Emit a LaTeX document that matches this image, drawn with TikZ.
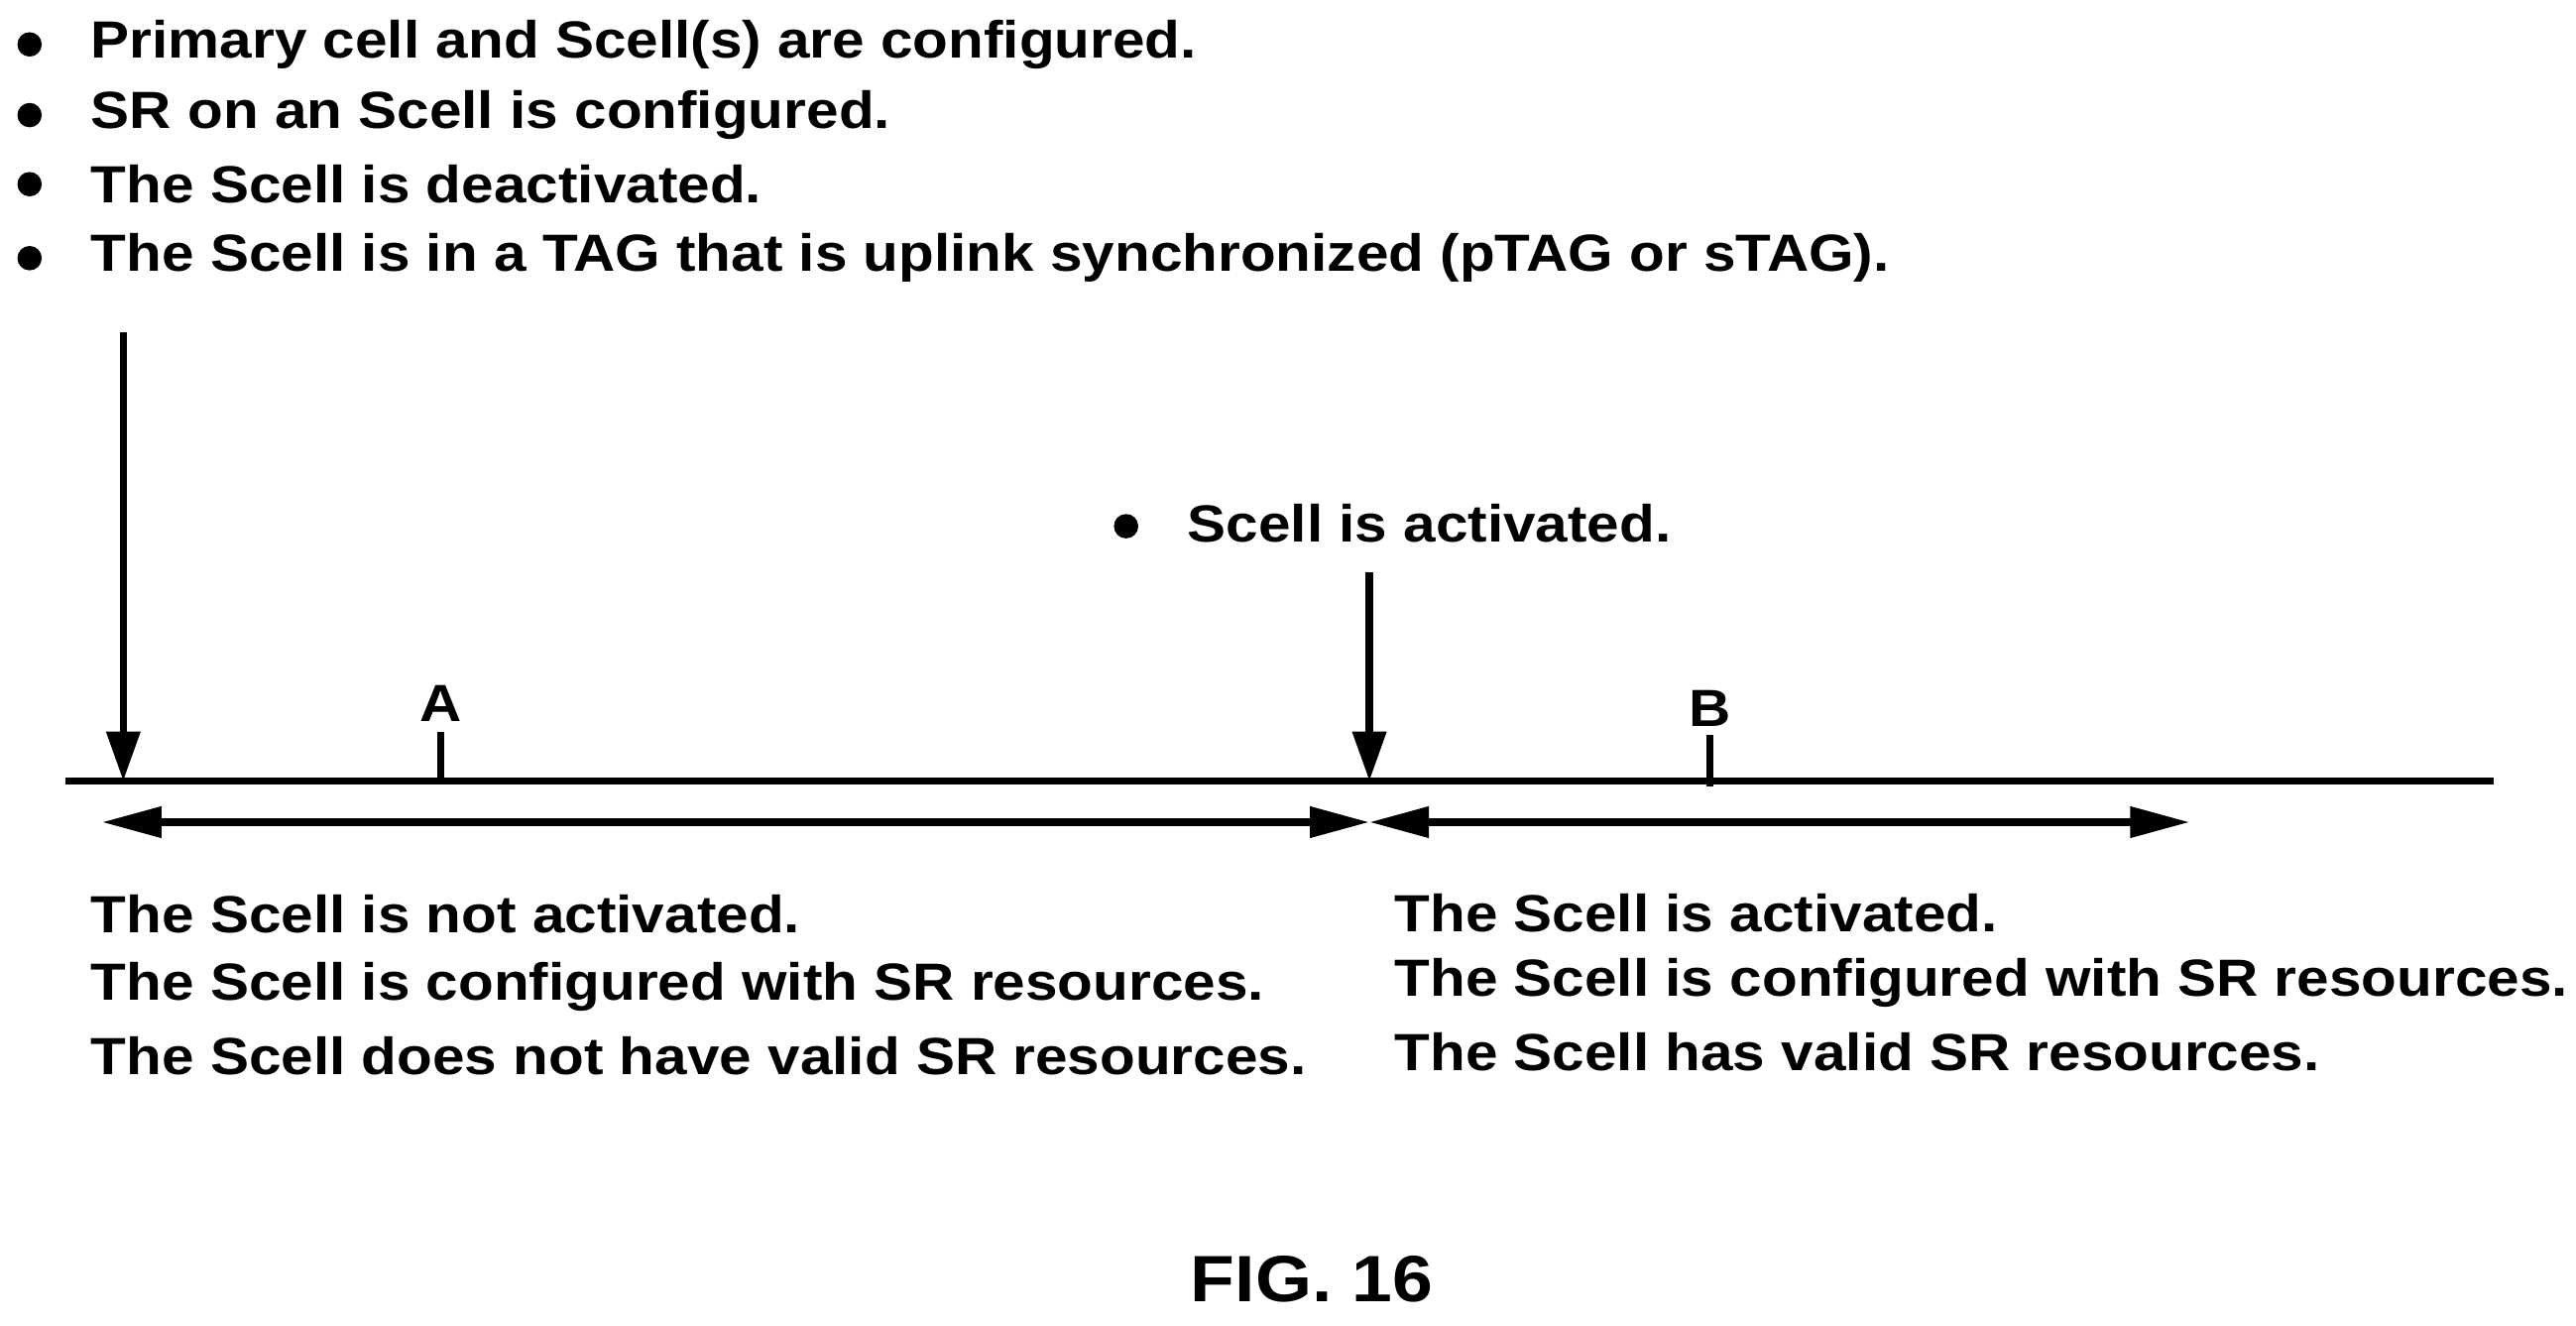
\documentclass[tikz,border=0pt]{standalone}
\usepackage{fontspec}
\setmainfont{Liberation Sans}[FakeStretch=1.11]
\usetikzlibrary{arrows.meta,positioning}

\begin{document}
\begin{tikzpicture}[x=0.01659cm,y=-0.01659cm,font=\bfseries\fontsize{15}{17}\selectfont]
    % `txt' for the plain text lines, `line' for the thick strokes.
    \tikzstyle{txt} = [anchor=west,inner sep=0pt]
    \tikzstyle{dot} = [fill,circle,inner sep=0pt,minimum size=7pt]
    \tikzstyle{line} = [line width=2.1pt]
    \tikzstyle{down} = [line,-{Triangle[length=0.5cm,width=0.33cm]}]
    \tikzstyle{span} = [line,{Triangle[length=0.6cm,width=0.3cm]}-{Triangle[length=0.6cm,width=0.3cm]}]
    \useasboundingbox (0,0) rectangle (1567,806);
    %
    \foreach \y/\t [count=\i] in {27/Primary cell and Scell(s) are configured.,
        70/SR on an Scell is configured.,
        112/The Scell is deactivated.,
        157/The Scell is in a TAG that is uplink synchronized (pTAG or sTAG).}{
      \node[dot] (b\i) at (18,\y) {};
      \node[txt] (top\i) at (55,\y) {\t};
    }
    \node[dot] (bact) at (685,320) {};
    \node[txt] (act) at (722,318) {Scell is activated.};
    %
    \coordinate (tl0) at (40,475);
    \coordinate (tl1) at (1517,475);
    \coordinate (s0) at (75,202);
    \coordinate (e0) at (75,475);
    \coordinate (s1) at (833,348);
    \coordinate (e1) at (833,475);
    \coordinate (tA) at (268,445);
    \coordinate (tB) at (1040,447);
    \node (A) at (268,428) {A};
    \node (B) at (1040,431) {B};
    \draw[line] (tl0) -- (tl1);
    \draw[line] (tA) -- (268,475)  (tB) -- (1040,478);
    \draw[down] (s0) -- (e0);
    \draw[down] (s1) -- (e1);
    %
    \coordinate (l0) at (62,500);
    \coordinate (m0) at (833,500);
    \coordinate (r0) at (1332,500);
    \draw[span] (l0) -- (m0);
    \draw[span] (m0) -- (r0);
    %
    \node[txt] (L1) at (55,556) {The Scell is not activated.};
    \node[txt] (L2) at (55,600) {The Scell is configured with SR resources.};
    \node[txt] (L3) at (55,642) {The Scell does not have valid SR resources.};
    \node[txt] (R1) at (848,555) {The Scell is activated.};
    \node[txt] (R2) at (848,598) {The Scell is configured with SR resources.};
    \node[txt] (R3) at (848,640) {The Scell has valid SR resources.};
    %
    \node[font=\bfseries\fontsize{18.8}{22}\selectfont] (fig) at (798,778) {FIG. 16};
\end{tikzpicture}
\end{document}
